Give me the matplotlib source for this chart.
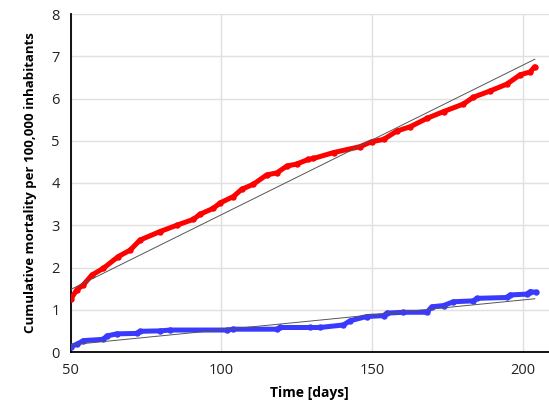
import matplotlib
matplotlib.use("Agg")
import matplotlib.pyplot as plt

# Red series
red_days = [50, 52, 54.2, 57, 60.8, 65.8, 69.7, 73, 79.6, 85.2, 90.7, 92.9, 97.3, 99.6,
            104, 106.7, 110.6, 115, 118.4, 121.7, 125, 128.9, 130.5, 137.2, 146, 149.9,
            153.8, 158.2, 162.6, 168.2, 173.7, 180.3, 183.6, 189.2, 194.7, 199.1, 202.5, 203.9]
red_vals = [1.25, 1.47, 1.59, 1.82, 1.98, 2.26, 2.41, 2.65, 2.85, 3.0, 3.14, 3.26, 3.40, 3.53,
            3.68, 3.85, 3.97, 4.19, 4.24, 4.40, 4.45, 4.56, 4.58, 4.72, 4.86, 4.98,
            5.03, 5.23, 5.33, 5.53, 5.69, 5.87, 6.03, 6.18, 6.34, 6.56, 6.63, 6.75]

# Blue series
blue_days = [50, 52, 54.2, 60.8, 62, 65.3, 71.9, 73, 79.6, 83, 101.8, 104, 118.4, 119.5,
             129.4, 132.7, 140.5, 142.7, 148.2, 153.8, 154.9, 160.4, 168.2, 169.8, 173.7,
             177, 183.6, 184.7, 194.7, 195.8, 201.3, 202.5, 204.5]
blue_vals = [0.13, 0.18, 0.27, 0.30, 0.38, 0.43, 0.44, 0.49, 0.50, 0.52, 0.52, 0.54, 0.54, 0.58,
             0.58, 0.58, 0.64, 0.74, 0.84, 0.86, 0.92, 0.94, 0.94, 1.07, 1.10,
             1.19, 1.21, 1.27, 1.29, 1.35, 1.37, 1.43, 1.41]

# Linear trend lines (end points)
red_trend_days = [50, 204]
red_trend_vals = [1.48, 6.93]
blue_trend_days = [50, 204]
blue_trend_vals = [0.17, 1.26]

x_ticks = [50, 100, 150, 200]
y_ticks = [0, 1, 2, 3, 4, 5, 6, 7, 8]

plt.rcParams['font.family'] = ['Open Sans', 'DejaVu Sans']

fig = plt.figure(figsize=(5.49, 4.0), dpi=100)
ax = fig.add_axes([0.1288, 0.12, 1.0 - 0.1288, 0.845])

ax.plot(red_days, red_vals, color='#ff0000', lw=3.6, marker='o', ms=3.6,
        solid_joinstyle='round', solid_capstyle='round', zorder=3)
ax.plot(blue_days, blue_vals, color='#3a3aff', lw=3.6, marker='o', ms=3.6,
        solid_joinstyle='round', solid_capstyle='round', zorder=3)
ax.plot(red_trend_days, red_trend_vals, color='#555555', lw=0.7, zorder=4)
ax.plot(blue_trend_days, blue_trend_vals, color='#555555', lw=0.7, zorder=4)

ax.set_xlim(50, 208.7)
ax.set_ylim(0, 8)
ax.set_xticks(x_ticks)
ax.set_yticks(y_ticks)
ax.grid(True, color='#e0e0e0', lw=1.0)
ax.set_axisbelow(True)
for s in ['top', 'right']:
    ax.spines[s].set_visible(False)
for s in ['left', 'bottom']:
    ax.spines[s].set_color('black')
    ax.spines[s].set_linewidth(1.3)
ax.tick_params(length=0, labelsize=10.5, pad=8, colors='#222222')
ax.set_xlabel('Time [days]', fontsize=10, fontweight='bold', labelpad=6)
ax.set_ylabel('Cumulative mortality per 100,000 inhabitants', fontsize=9.5,
              fontweight='bold', labelpad=10)

fig.savefig('out.png', dpi=100)
